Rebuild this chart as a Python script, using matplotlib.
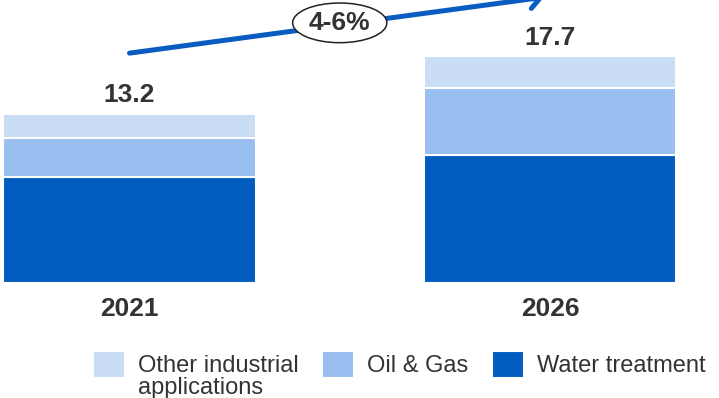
import numpy as np
import matplotlib
matplotlib.use("Agg")
import matplotlib.pyplot as plt
from matplotlib.patches import Ellipse

plt.rcParams["font.family"] = ["Liberation Sans", "DejaVu Sans"]

years = ["2021", "2026"]
water = [8.3, 10.0]
oil_gas = [3.0, 5.2]
other = [1.9, 2.5]
totals = [13.2, 17.7]
cagr_label = "4-6%"

C_WATER = "#005CBF"
C_OIL = "#98BFEF"
C_OTHER = "#C9DDF4"
C_LINE = "#0A5CC0"
C_TEXT = "#333333"

fig = plt.figure(figsize=(7.19, 3.98), dpi=100)
ax = fig.add_axes([0, 0.289, 1, 0.711])

x = np.arange(len(years))
w = 0.60
kw = dict(width=w, edgecolor="white", linewidth=1.5)
b_water = ax.bar(x, water, color=C_WATER, label="Water treatment", **kw)
b_oil = ax.bar(x, oil_gas, bottom=water, color=C_OIL, label="Oil & Gas", **kw)
b_other = ax.bar(x, other, bottom=np.add(water, oil_gas), color=C_OTHER,
                 label="Other industrial", **kw)

for xi, t in zip(x, totals):
    ax.text(xi, t + 1.45, f"{t:.1f}", ha="center", va="center",
            fontsize=19, fontweight="bold", color=C_TEXT)
    ax.text(xi, -2.05, years[xi], ha="center", va="center",
            fontsize=19, fontweight="bold", color=C_TEXT)

# growth arrow, tip just past the top edge
y0, y1 = totals[0] + 4.75, totals[1] + 4.62
ax.annotate("", xy=(0.986, y1), xytext=(0, y0),
            arrowprops=dict(arrowstyle="->,head_length=0.75,head_width=0.68",
                            color=C_LINE, lw=3.6, shrinkA=0, shrinkB=0,
                            capstyle="round"),
            annotation_clip=False)
xm = 0.5
ym = y0 + (y1 - y0) * xm / 0.986
ax.add_patch(Ellipse((xm, ym + 0.15), 0.224, 3.1, fc="white", ec="#222222",
                     lw=1.1, zorder=4))
ax.text(xm, ym + 0.1, cagr_label, ha="center", va="center", fontsize=19,
        fontweight="bold", color=C_TEXT, zorder=5)

ax.set_xlim(-0.308, 1.402)
ax.set_ylim(0, 22.1)
ax.axis("off")

leg = fig.legend(handles=[b_other, b_oil, b_water], loc="upper left",
                 bbox_to_anchor=(0.129, 0.118), ncol=3, frameon=False,
                 fontsize=17, handlelength=1.36, handleheight=1.35,
                 handletextpad=0.55, columnspacing=1.0, borderpad=0,
                 borderaxespad=0, labelcolor=C_TEXT)

# second line of the first legend label, set under its first line
fig.canvas.draw()
bb = leg.get_texts()[0].get_window_extent()
fig.text(bb.x0, bb.y0 + 0.5, "applications", ha="left", va="top",
         fontsize=17, color=C_TEXT, transform=None)

fig.savefig("out.png", dpi=100)
